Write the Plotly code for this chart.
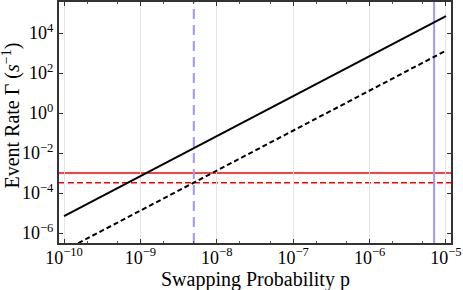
import numpy as np
import plotly.graph_objects as go

# Data
p_values = [1e-10, 1e-9, 1e-8, 1e-7, 1e-6, 1e-5]
rate_solid = [6.9e-6, 6.9e-4, 6.9e-2, 6.9e0, 6.9e2, 6.9e4]
rate_dashed = [1.32e-7, 1.32e-5, 1.32e-3, 1.32e-1, 1.32e1, 1.32e3]
threshold_solid = 1.0e-3
threshold_dashed = 3.3e-4
p_marker_dashed = 5e-9
p_marker_solid = 7e-6

x_tickvals = [1e-10, 1e-9, 1e-8, 1e-7, 1e-6, 1e-5]
x_ticktext = ["10<sup>−10</sup>", "10<sup>−9</sup>", "10<sup>−8</sup>", "10<sup>−7</sup>", "10<sup>−6</sup>", "10<sup>−5</sup>"]
y_tickvals = [1e-6, 1e-4, 1e-2, 1e0, 1e2, 1e4]
y_ticktext = ["10<sup>−6</sup>", "10<sup>−4</sup>", "10<sup>−2</sup>", "10<sup>0</sup>", "10<sup>2</sup>", "10<sup>4</sup>"]
x_title = "Swapping Probability p"
y_title = "Event Rate Γ (<i>s</i><sup>−1</sup>)"

FONT = "Liberation Serif"

fig = go.Figure()
fig.add_trace(go.Scatter(x=p_values, y=rate_solid, mode="lines",
                         line=dict(color="black", width=2), showlegend=False))
fig.add_trace(go.Scatter(x=p_values, y=rate_dashed, mode="lines",
                         line=dict(color="black", width=2, dash="5px,3px"), showlegend=False))

fig.add_hline(y=threshold_solid, line=dict(color="#ff0000", width=1.5), layer="below")
fig.add_hline(y=threshold_dashed, line=dict(color="#ff0000", width=1.5, dash="6px,3px"), layer="below")
fig.add_vline(x=p_marker_dashed, line=dict(color="#9999ff", width=2, dash="10px,6px"), layer="below")
fig.add_vline(x=p_marker_solid, line=dict(color="#9999ff", width=2), layer="below")

axis_common = dict(
    type="log", automargin=False,
    showline=True, linecolor="#333333", linewidth=2, mirror="ticks",
    ticks="inside", ticklen=4, tickcolor="#333333", tickwidth=1,
    tickfont=dict(family=FONT, size=18, color="black"),
    zeroline=False,
)

fig.update_xaxes(**axis_common, range=[-10.066, -4.934],
                 tickvals=x_tickvals, ticktext=x_ticktext, ticklabelstandoff=-3,
                 minor=dict(ticks="inside", ticklen=2, tickcolor="#555555", showgrid=False),
                 showgrid=True, gridcolor="#e3e3e3", gridwidth=1)
fig.update_yaxes(**axis_common, range=[-6.5, 5.55],
                 tickvals=y_tickvals, ticktext=y_ticktext,
                 showgrid=False)

fig.add_annotation(text=x_title, xref="paper", yref="paper", x=0.5, y=-0.15,
                   xanchor="center", yanchor="middle", showarrow=False,
                   font=dict(family=FONT, size=20, color="black"))
fig.add_annotation(text=y_title, xref="paper", yref="paper", x=-0.121, y=0.527,
                   xanchor="center", yanchor="middle", showarrow=False, textangle=-90,
                   font=dict(family=FONT, size=20, color="black"))

fig.update_layout(
    width=463, height=290,
    margin=dict(l=59, r=12, t=2, b=47),
    plot_bgcolor="white", paper_bgcolor="white",
    font=dict(family=FONT, color="black"),
)

fig.write_html("out.html", config={"displayModeBar": False},
               post_script="document.body.style.margin='0px';")
